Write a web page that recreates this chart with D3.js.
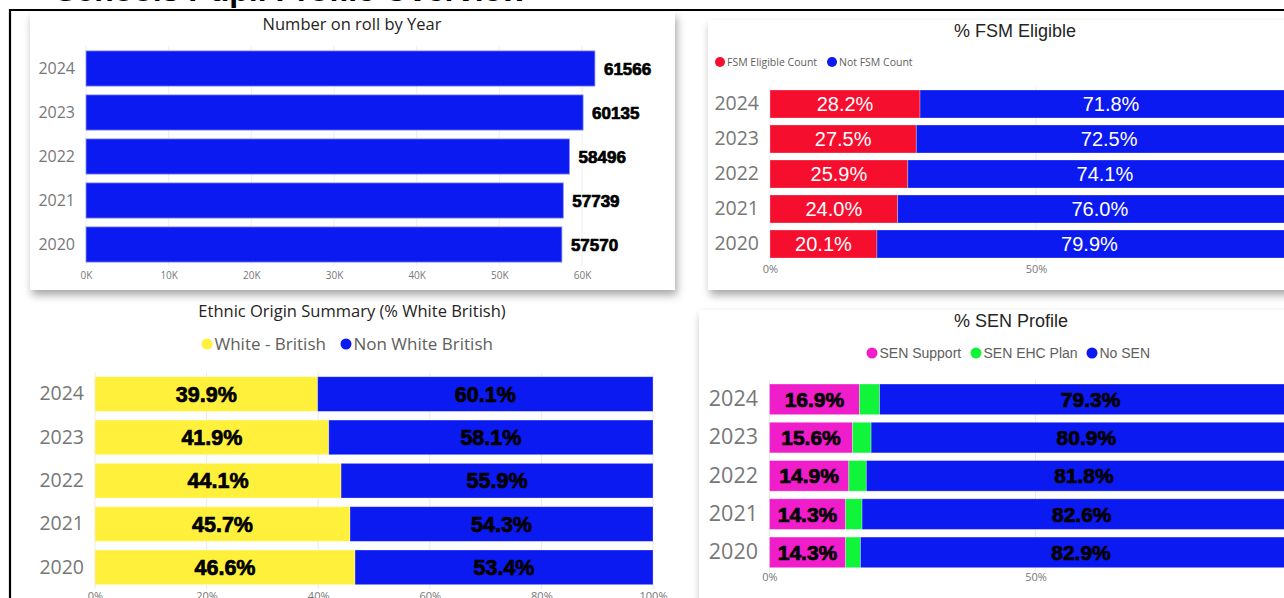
<!DOCTYPE html>
<html>
<head>
<meta charset="utf-8">
<script src="https://cdn.jsdelivr.net/npm/d3@7"></script>
<style>
  html, body { margin: 0; padding: 0; background: #fff; overflow: hidden; }
  svg { display: block; }
</style>
</head>
<body>
<div id="svg-area"></div>
<script>
// chart data
var years = ["2024", "2023", "2022", "2021", "2020"];

var rollCounts = [61566, 60135, 58496, 57739, 57570];
var rollTicks = [0, 10000, 20000, 30000, 40000, 50000, 60000];

var fsmEligible = [28.2, 27.5, 25.9, 24.0, 20.1];
var fsmNot = [71.8, 72.5, 74.1, 76.0, 79.9];
var fsmTicks = [0, 50, 100];

var whiteBritish = [39.9, 41.9, 44.1, 45.7, 46.6];
var nonWhiteBritish = [60.1, 58.1, 55.9, 54.3, 53.4];
var ethnicTicks = [0, 20, 40, 60, 80, 100];

var senSupport = [16.9, 15.6, 14.9, 14.3, 14.3];
var senEhcPlan = [3.8, 3.5, 3.3, 3.1, 2.8];
var noSen = [79.3, 80.9, 81.8, 82.6, 82.9];
var senTicks = [0, 50, 100];

var BLUE = "#0b1af0";
var GREY = "#777777";
var SEGOE = "'Open Sans', 'Noto Sans', sans-serif";
var ARIAL = "'Liberation Sans', Arial, sans-serif";

var svg = d3.select("#svg-area")
    .append("svg")
    .attr("width", 1284)
    .attr("height", 598)
;

// drop shadow for the cards
var shadow = svg.append("defs").append("filter")
    .attr("id", "shadow")
    .attr("x", "-10%").attr("y", "-10%")
    .attr("width", "120%").attr("height", "130%");
shadow.append("feDropShadow")
    .attr("dx", 2).attr("dy", 5)
    .attr("stdDeviation", 4)
    .attr("flood-color", "#000")
    .attr("flood-opacity", 0.35);

// page heading, mostly cut off by the top of the frame
svg.append("text")
    .attr("x", 55).attr("y", 0.5)
    .attr("font-family", ARIAL)
    .attr("font-weight", "bold")
    .attr("font-size", 32)
    .attr("fill", "#000")
    .text("Schools Pupil Profile Overview");

// black frame
svg.append("path")
    .attr("d", "M10,598 V10 H1284")
    .attr("fill", "none")
    .attr("stroke", "#000")
    .attr("stroke-width", 2.2);

// cards
[[30, 12, 645, 278], [708, 20, 600, 270], [699, 310, 610, 300]].forEach(function(c) {
    svg.append("rect")
        .attr("x", c[0]).attr("y", c[1])
        .attr("width", c[2]).attr("height", c[3])
        .attr("fill", "#fff")
        .attr("filter", "url(#shadow)");
});

function addTitle(x, y, size, family, text) {
    svg.append("text")
        .attr("x", x).attr("y", y)
        .attr("text-anchor", "middle")
        .attr("font-family", family)
        .attr("font-size", size)
        .attr("fill", "#252423")
        .text(text);
}

// legend: list of [x, label, color]
function addLegend(items, y, size, family, r) {
    items.forEach(function(it) {
        svg.append("circle")
            .attr("cx", it[0]).attr("cy", y)
            .attr("r", r)
            .attr("fill", it[2]);
        svg.append("text")
            .attr("x", it[0] + r + 2).attr("y", y)
            .attr("dy", "0.36em")
            .attr("font-family", family)
            .attr("font-size", size)
            .attr("fill", "#605e5c")
            .text(it[1]);
    });
}

// heavy black data labels (Arial Black look)
function heavy(sel, size) {
    sel.attr("font-family", ARIAL)
        .attr("font-weight", "bold")
        .attr("font-size", size)
        .attr("fill", "#000")
        .attr("stroke", "#000")
        .attr("stroke-width", 0.7);
}

// ---------- Number on roll by Year ----------
var rollX = d3.scaleLinear().domain([0, 60000]).range([86, 582]);
var rollY = d3.scaleBand().domain(years).range([46.5, 266.5])
    .paddingInner(0.2).paddingOuter(0.1);

addTitle(352, 30, 16.5, SEGOE, "Number on roll by Year");

var rollGroup = svg.append("g");

rollGroup.selectAll(".grid")
    .data(rollTicks)
    .enter()
    .append("line")
    .attr("x1", d => rollX(d)).attr("x2", d => rollX(d))
    .attr("y1", 46).attr("y2", 266)
    .attr("stroke", "#eeeeee");

rollGroup.selectAll(".bar")
    .data(rollCounts)
    .enter()
    .append("rect")
    .attr("x", rollX(0))
    .attr("y", (d, i) => rollY(years[i]))
    .attr("width", d => rollX(d) - rollX(0))
    .attr("height", rollY.bandwidth())
    .attr("fill", BLUE)
    .attr("stroke", "#8d95f6")
    .attr("stroke-width", 0.8);

rollGroup.selectAll(".val")
    .data(rollCounts)
    .enter()
    .append("text")
    .attr("x", d => rollX(d) + 9)
    .attr("y", (d, i) => rollY(years[i]) + rollY.bandwidth() / 2)
    .attr("dy", "0.36em")
    .call(heavy, 17)
    .text(d => d);

var rollYAxis = rollGroup.append("g")
    .attr("transform", "translate(75,0)")
    .call(d3.axisLeft(rollY).tickSize(0).tickPadding(0));
rollYAxis.select(".domain").remove();
rollYAxis.selectAll("text")
    .attr("font-family", SEGOE).attr("font-size", 16).attr("fill", GREY);

var rollXAxis = rollGroup.append("g")
    .attr("transform", "translate(0,266)")
    .call(d3.axisBottom(rollX).tickValues(rollTicks).tickSize(0).tickPadding(6)
        .tickFormat(d => (d / 1000) + "K"));
rollXAxis.select(".domain").remove();
rollXAxis.selectAll("text")
    .attr("font-family", SEGOE).attr("font-size", 10).attr("fill", GREY);

// ---------- stacked percentage charts ----------
function drawStacked(cfg) {
    var rows = years.map(function(y, i) {
        var row = { year: y };
        cfg.series.forEach(function(s) { row[s.key] = s.values[i]; });
        return row;
    });
    var keys = cfg.series.map(s => s.key);
    var stacked = d3.stack().keys(keys)(rows);

    var x = d3.scaleLinear().domain([0, 100]).range(cfg.xRange);
    var y = d3.scaleBand().domain(years).range(cfg.yRange)
        .paddingInner(0.2).paddingOuter(0.1);

    var g = svg.append("g");

    g.selectAll(".grid")
        .data(cfg.ticks)
        .enter()
        .append("line")
        .attr("x1", d => x(d)).attr("x2", d => x(d))
        .attr("y1", cfg.yRange[0]).attr("y2", cfg.yRange[1])
        .attr("stroke", "#e9e9e9");

    var layers = g.selectAll(".layer")
        .data(stacked)
        .enter()
        .append("g");

    layers.selectAll("rect")
        .data(d => d)
        .enter()
        .append("rect")
        .attr("x", d => x(d[0]))
        .attr("y", d => y(d.data.year))
        .attr("width", d => x(d[1]) - x(d[0]))
        .attr("height", y.bandwidth())
        .attr("fill", function() { return cfg.series[d3.select(this.parentNode).datum().index].color; })
        .attr("stroke", "rgba(255,255,255,0.35)")
        .attr("stroke-width", 0.8);

    layers.each(function(layer) {
        var s = cfg.series[layer.index];
        if (!s.label) return;
        var labels = d3.select(this).selectAll("text")
            .data(layer)
            .enter()
            .append("text")
            .attr("x", d => (x(d[0]) + x(d[1])) / 2)
            .attr("y", d => y(d.data.year) + y.bandwidth() / 2)
            .attr("dy", "0.36em")
            .attr("text-anchor", "middle")
            .text(d => (d[1] - d[0]).toFixed(1) + "%");
        if (cfg.heavyLabels) {
            labels.call(heavy, cfg.labelSize);
        } else {
            labels.attr("font-family", ARIAL)
                .attr("font-size", cfg.labelSize)
                .attr("fill", s.label);
        }
    });

    var yAxis = g.append("g")
        .attr("transform", "translate(" + cfg.yearRight + ",0)")
        .call(d3.axisLeft(y).tickSize(0).tickPadding(0));
    yAxis.select(".domain").remove();
    yAxis.selectAll("text")
        .attr("font-family", SEGOE).attr("font-size", cfg.yearSize).attr("fill", GREY);

    var xAxis = g.append("g")
        .attr("transform", "translate(0," + cfg.tickY + ")")
        .call(d3.axisBottom(x).tickValues(cfg.ticks).tickSize(0).tickPadding(0)
            .tickFormat(d => d + "%"));
    xAxis.select(".domain").remove();
    xAxis.selectAll("text")
        .attr("font-family", SEGOE).attr("font-size", 11).attr("fill", GREY);
}

// % FSM Eligible
addTitle(1015, 37, 18, ARIAL, "% FSM Eligible");
addLegend([[720, "FSM Eligible Count", "#f50e2d"], [832, "Not FSM Count", BLUE]], 62, 10.5, SEGOE, 5);
drawStacked({
    series: [
        { key: "fsm", values: fsmEligible, color: "#f50e2d", label: "#fff" },
        { key: "notfsm", values: fsmNot, color: BLUE, label: "#fff" }
    ],
    xRange: [770, 1302],
    yRange: [86.5, 261.5],
    ticks: fsmTicks,
    tickY: 265,
    yearRight: 759,
    yearSize: 19.5,
    heavyLabels: false,
    labelSize: 20
});

// Ethnic Origin Summary
addTitle(352, 317, 16.5, SEGOE, "Ethnic Origin Summary (% White British)");
addLegend([[207, "White - British", "#fff03c"], [346, "Non White British", BLUE]], 344, 17, SEGOE, 5.5);
drawStacked({
    series: [
        { key: "wb", values: whiteBritish, color: "#fff03c", label: "#000" },
        { key: "nwb", values: nonWhiteBritish, color: BLUE, label: "#000" }
    ],
    xRange: [95, 653],
    yRange: [372.4, 589],
    ticks: ethnicTicks,
    tickY: 592,
    yearRight: 84,
    yearSize: 19.5,
    heavyLabels: true,
    labelSize: 21.5
});

// % SEN Profile
addTitle(1011, 327, 18, ARIAL, "% SEN Profile");
addLegend([[872, "SEN Support", "#f01dca"], [976, "SEN EHC Plan", "#10f53a"], [1092, "No SEN", BLUE]],
    353, 14, ARIAL, 5.5);
drawStacked({
    series: [
        { key: "sup", values: senSupport, color: "#f01dca", label: "#000" },
        { key: "ehc", values: senEhcPlan, color: "#10f53a", label: null },
        { key: "none", values: noSen, color: BLUE, label: "#000" }
    ],
    xRange: [769.5, 1301.5],
    yRange: [380.2, 571.5],
    ticks: senTicks,
    tickY: 573,
    yearRight: 758,
    yearSize: 21.5,
    heavyLabels: true,
    labelSize: 21
});
</script>
</body>
</html>
